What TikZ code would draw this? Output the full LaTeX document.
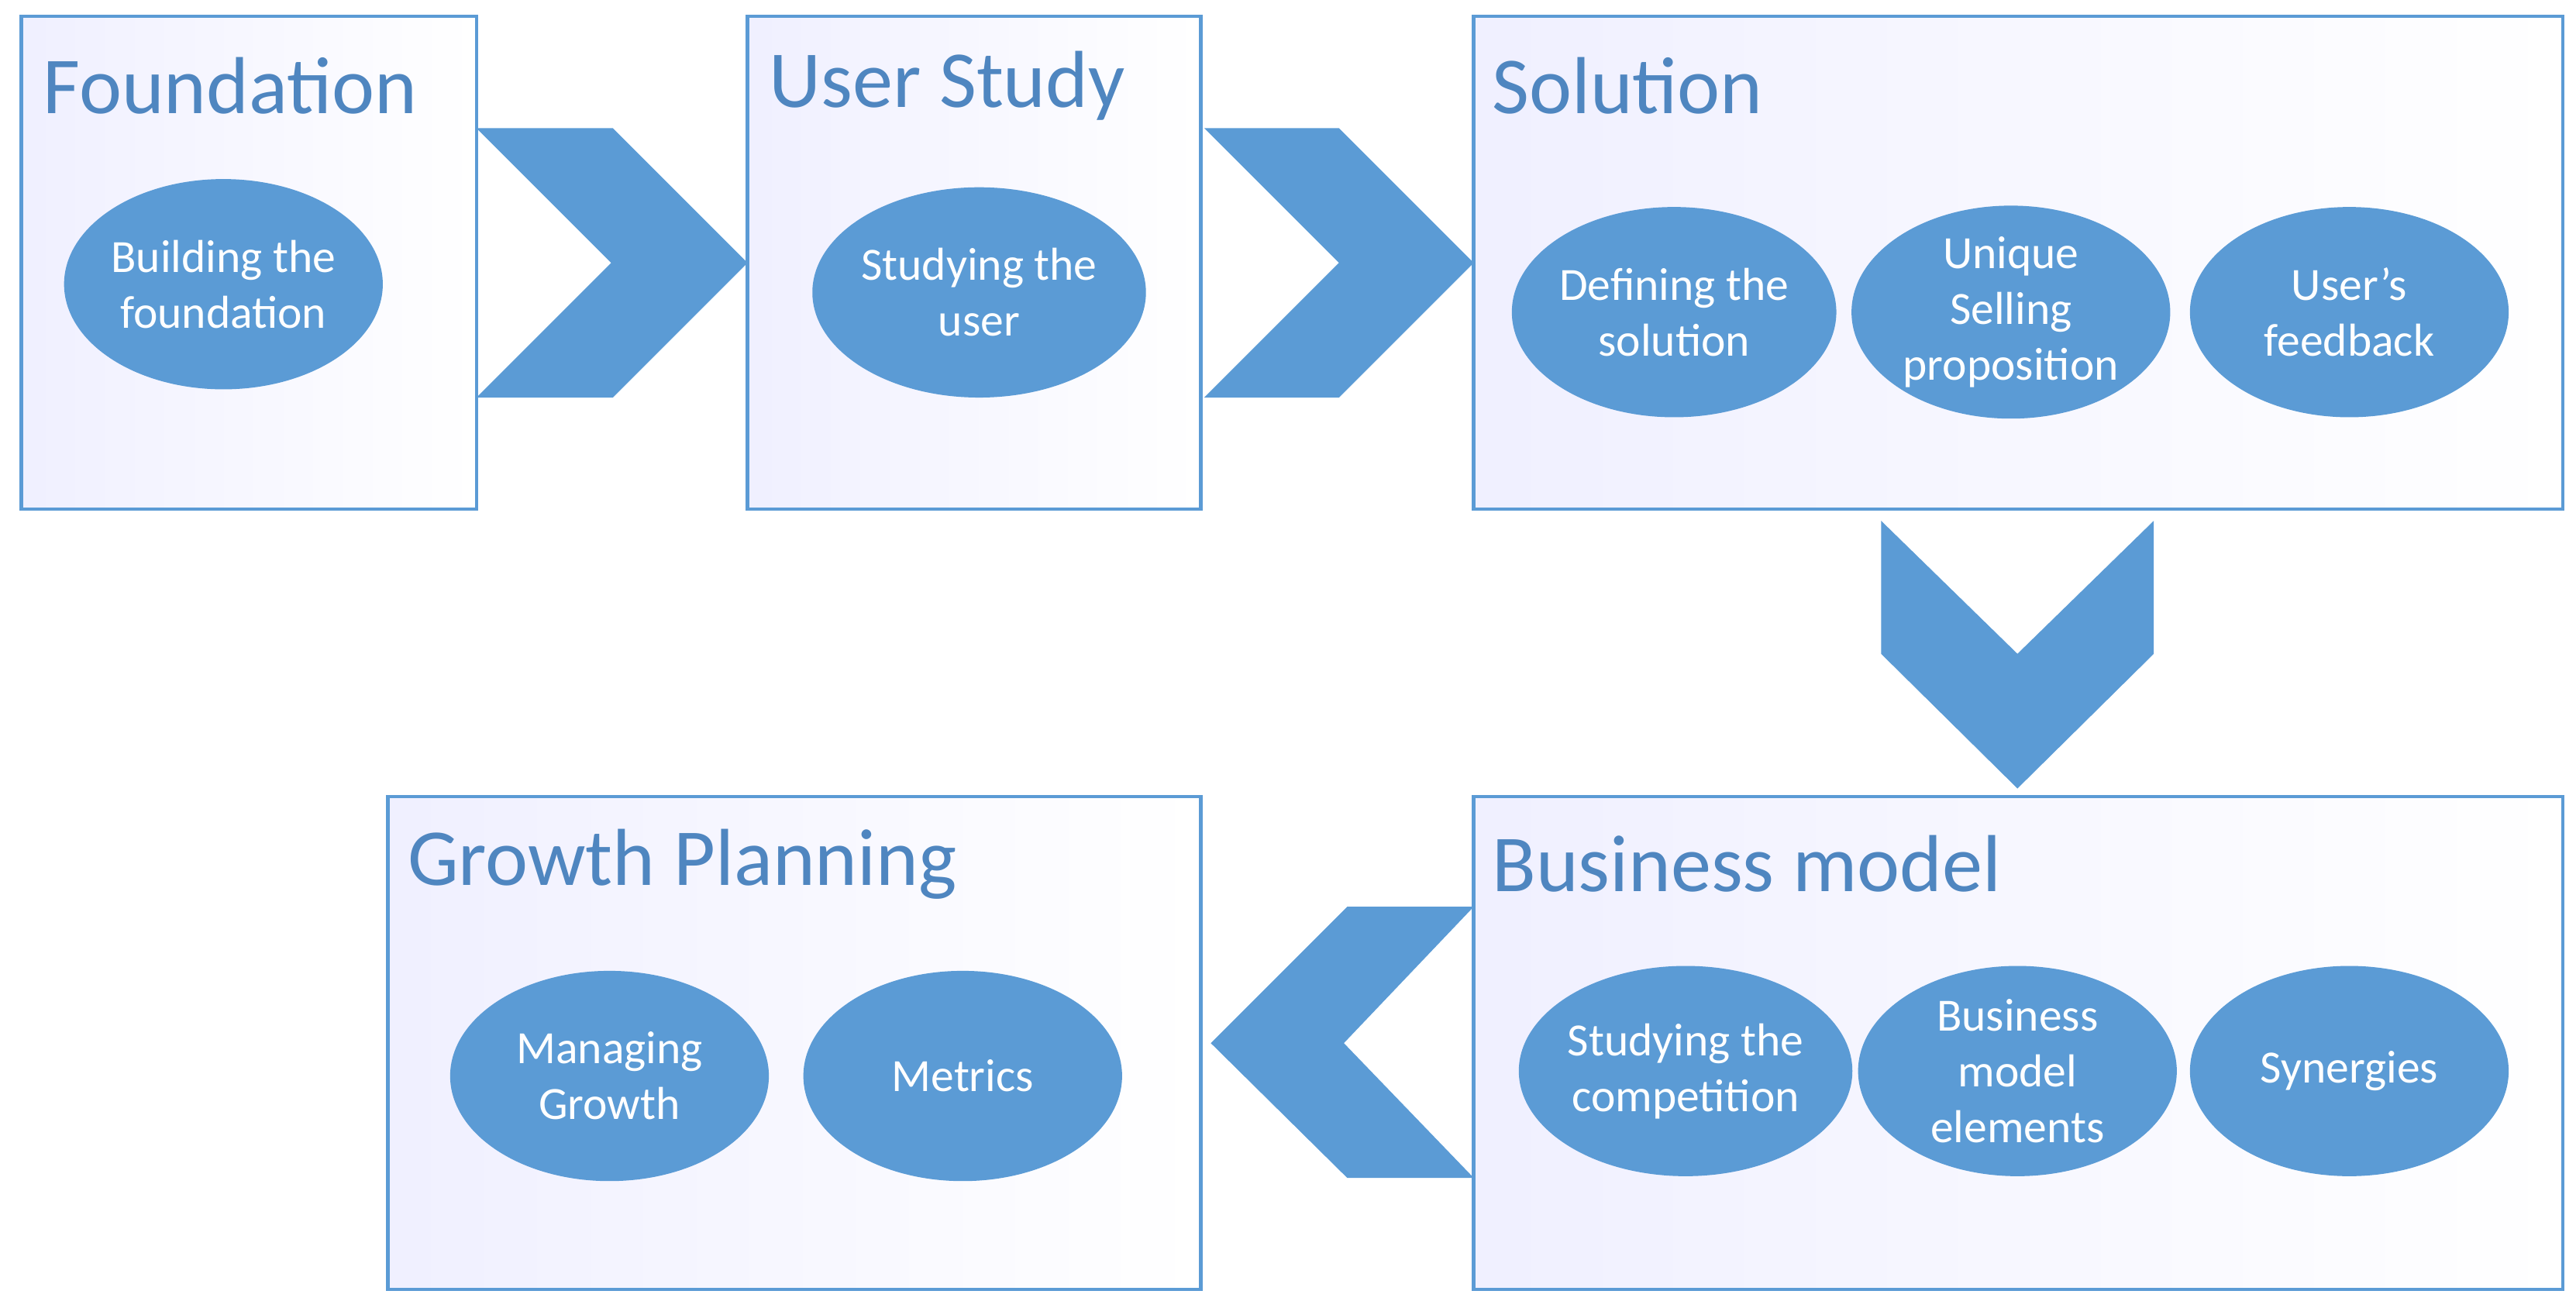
\documentclass[tikz,border=0pt]{standalone}
\usepackage{fontspec}
\setmainfont{Carlito}
\usetikzlibrary{shapes.geometric}
\definecolor{mblue}{HTML}{5B9BD5}
\definecolor{tblue}{HTML}{4F86C0}
\begin{document}
\begin{tikzpicture}[x=0.02cm,y=-0.02cm,
 box/.style={left color=blue!6,right color=white},
 bord/.style={draw=mblue,line width=1.2pt},
 ell/.style={ellipse,fill=mblue,minimum width=194*0.02cm,minimum height=128*0.02cm,text=white,align=center,font=\fontsize{16}{19.3}\selectfont,inner sep=0pt},
 ttl/.style={anchor=west,text=tblue,font=\fontsize{28}{32}\selectfont},
 chev/.style={fill=mblue}]
\useasboundingbox (0,0) rectangle (1568,796);
\shade[box] (13,10) rectangle (290,310);
\draw[bord] (13,10) rectangle (290,310);
\shade[box] (455,10) rectangle (731,310);
\draw[bord] (455,10) rectangle (731,310);
\shade[box] (897,10) rectangle (1560,310);
\draw[bord] (897,10) rectangle (1560,310);
\shade[box] (897,485) rectangle (1560,785);
\draw[bord] (897,485) rectangle (1560,785);
\shade[box] (236,485) rectangle (731,785);
\draw[bord] (236,485) rectangle (731,785);
\node[ttl] (t1) at (20,52) {Foundation};
\node[ttl] (t2) at (462,52) {User Study};
\node[ttl] (t3) at (902,52) {Solution};
\node[ttl] (t4) at (902,526) {Business model};
\node[ttl] (t5) at (242,526) {Growth Planning};
\fill[chev] (290,78)--(373,78)--(455,160)--(373,242)--(290,242)--(372,160)--cycle;
\fill[chev] (733,78)--(815,78)--(897,160)--(815,242)--(733,242)--(815,160)--cycle;
\fill[chev] (1145,317)--(1228,398)--(1311,317)--(1311,398)--(1228,480)--(1145,398)--cycle;
\fill[chev] (897,552)--(820,552)--(737,635)--(820,717)--(897,717)--(818,635)--cycle;
\node[ell] (e1) at (136,173) {Building the\\foundation};
\node[ell] (e2) at (596,178) {Studying the\\user};
\node[ell] (e3) at (1019,190) {Defining the\\solution};
\node[ell] (e4) at (1224,190) {Unique\\Selling\\proposition};
\node[ell] (e5) at (1430,190) {User’s\\feedback};
\node[ell] (e6) at (1026,652) {Studying the\\competition};
\node[ell] (e7) at (1228,652) {Business\\model\\elements};
\node[ell] (e8) at (1430,652) {Synergies};
\node[ell] (e9) at (371,655) {Managing\\Growth};
\node[ell] (e10) at (586,655) {Metrics};
\end{tikzpicture}
\end{document}
